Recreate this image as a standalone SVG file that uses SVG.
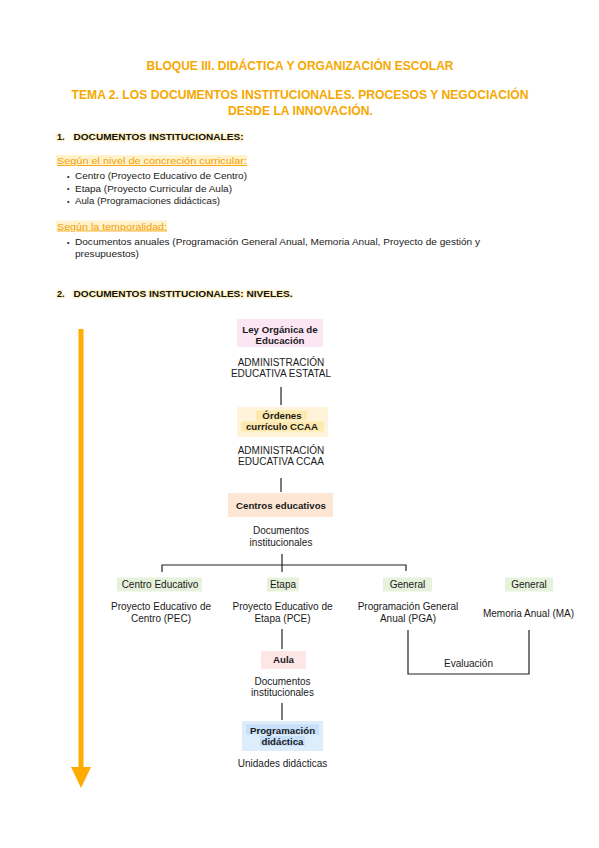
<svg xmlns="http://www.w3.org/2000/svg" width="599" height="848" viewBox="0 0 599 848">
<style>
text{font-family:"Liberation Sans",Arial,sans-serif;fill:#1a1a1a}
.title{font-size:12px;font-weight:bold;fill:#F7A800;text-anchor:middle}
.h{font-size:9px;font-weight:bold;fill:#111;paint-order:stroke;stroke:#fff1c4;stroke-width:2.5px;stroke-linejoin:round}
.sub{font-size:9px;fill:#F5A000;text-decoration:underline}
.t{font-size:9px}
.bul{font-size:7px}
.c{font-size:10px;text-anchor:middle}
.b{font-size:9.7px;font-weight:bold;text-anchor:middle}
.ln{stroke:#222;stroke-width:1.2;fill:none}
</style>
<rect width="599" height="848" fill="#fff"/>
<text class="title" x="300" y="69.5" textLength="307" lengthAdjust="spacingAndGlyphs">BLOQUE III. DIDÁCTICA Y ORGANIZACIÓN ESCOLAR</text>
<text class="title" x="300" y="98.5" textLength="457" lengthAdjust="spacingAndGlyphs">TEMA 2. LOS DOCUMENTOS INSTITUCIONALES. PROCESOS Y NEGOCIACIÓN</text>
<text class="title" x="300.5" y="114.5" textLength="145" lengthAdjust="spacingAndGlyphs">DESDE LA INNOVACIÓN.</text>

<text class="h" x="57" y="139.5">1.</text>
<text class="h" x="73.5" y="139.5" textLength="170" lengthAdjust="spacingAndGlyphs">DOCUMENTOS INSTITUCIONALES:</text>

<rect x="56" y="155" width="191" height="10" fill="#fff2cc"/>
<text class="sub" x="57" y="164" textLength="190" lengthAdjust="spacingAndGlyphs">Según el nivel de concreción curricular:</text>
<text class="bul" x="67" y="178.5">•</text>
<text class="t" x="75" y="179.3" textLength="172" lengthAdjust="spacingAndGlyphs">Centro (Proyecto Educativo de Centro)</text>
<text class="bul" x="67" y="191">•</text>
<text class="t" x="75" y="191.8" textLength="157" lengthAdjust="spacingAndGlyphs">Etapa (Proyecto Curricular de Aula)</text>
<text class="bul" x="67" y="203.5">•</text>
<text class="t" x="75" y="204.3" textLength="145" lengthAdjust="spacingAndGlyphs">Aula (Programaciones didácticas)</text>

<rect x="56" y="220.5" width="111" height="10" fill="#fff2cc"/>
<text class="sub" x="57" y="229.5" textLength="110" lengthAdjust="spacingAndGlyphs">Según la temporalidad:</text>
<text class="bul" x="67" y="244.5">•</text>
<text class="t" x="75" y="245.3" textLength="405" lengthAdjust="spacingAndGlyphs">Documentos anuales (Programación General Anual, Memoria Anual, Proyecto de gestión y</text>
<text class="t" x="75" y="257" textLength="64" lengthAdjust="spacingAndGlyphs">presupuestos)</text>

<text class="h" x="57" y="296.5">2.</text>
<text class="h" x="73.5" y="296.5" textLength="219" lengthAdjust="spacingAndGlyphs">DOCUMENTOS INSTITUCIONALES: NIVELES.</text>

<g id="arrow">
<rect x="78.5" y="329" width="5" height="439" fill="#FFAB00"/>
<polygon points="71,767 91,767 81,788" fill="#FFAB00"/>
</g>

<g id="connectors">
<line class="ln" x1="281" y1="387" x2="281" y2="405"/>
<line class="ln" x1="281" y1="478" x2="281" y2="492"/>
<line class="ln" x1="282" y1="554" x2="282" y2="572"/>
<polyline class="ln" points="162,572 162,565 406,565 406,571"/>
<line class="ln" x1="282" y1="629" x2="282" y2="649"/>
<line class="ln" x1="282" y1="703" x2="282" y2="720"/>
<polyline class="ln" points="408,630 408,674 529,674 529,630"/>
<text class="c" x="468.5" y="666.5">Evaluación</text>
</g>

<g id="n-ley">
<rect x="237" y="319" width="86" height="28" fill="#fce6f4"/>
<text class="b" x="280" y="333.3">Ley Orgánica de</text>
<text class="b" x="280" y="344.4">Educación</text>
<text class="c" x="281" y="366.3">ADMINISTRACIÓN</text>
<text class="c" x="281" y="376.9">EDUCATIVA ESTATAL</text>
</g>

<g id="n-ordenes">
<rect x="237" y="407" width="91" height="30" fill="#fff4da"/>
<rect x="256" y="410.5" width="51" height="10" fill="#fde9ad"/>
<rect x="241" y="421.5" width="83" height="10" fill="#fde9ad"/>
<text class="b" x="282" y="419.2">Órdenes</text>
<text class="b" x="282" y="430.2">currículo CCAA</text>
<text class="c" x="281" y="453.6">ADMINISTRACIÓN</text>
<text class="c" x="281" y="465.3">EDUCATIVA CCAA</text>
</g>

<g id="n-centros">
<rect x="228" y="493" width="105" height="24" fill="#fde6d4"/>
<text class="b" x="281" y="508.5">Centros educativos</text>
<text class="c" x="281" y="533.6">Documentos</text>
<text class="c" x="281" y="546.3">institucionales</text>
</g>

<g id="n-centro-educativo">
<rect x="117" y="577.5" width="85" height="14" fill="#e6f2dc"/>
<text class="c" x="160" y="587.8">Centro Educativo</text>
<text class="c" x="161" y="610.3">Proyecto Educativo de</text>
<text class="c" x="161" y="621.9">Centro (PEC)</text>
</g>

<g id="n-etapa">
<rect x="267" y="577.5" width="32" height="14" fill="#e6f2dc"/>
<text class="c" x="283" y="587.8">Etapa</text>
<text class="c" x="282.5" y="610.3">Proyecto Educativo de</text>
<text class="c" x="282.5" y="621.9">Etapa (PCE)</text>
</g>

<g id="n-general-pga">
<rect x="383" y="577.5" width="49" height="14" fill="#e6f2dc"/>
<text class="c" x="407.5" y="587.8">General</text>
<text class="c" x="408" y="610.3">Programación General</text>
<text class="c" x="408" y="621.9">Anual (PGA)</text>
</g>

<g id="n-general-ma">
<rect x="505" y="577.5" width="48" height="14" fill="#e6f2dc"/>
<text class="c" x="529" y="587.8">General</text>
<text class="c" x="528.5" y="616.9">Memoria Anual (MA)</text>
</g>

<g id="n-aula">
<rect x="261" y="651" width="45" height="18" fill="#fde6e6"/>
<text class="b" x="283.5" y="662.7">Aula</text>
<text class="c" x="282.5" y="684.6">Documentos</text>
<text class="c" x="282.5" y="696.3">institucionales</text>
</g>

<g id="n-programacion">
<rect x="242" y="721" width="81" height="30" fill="#ddedfc"/>
<rect x="246" y="724.5" width="73" height="10" fill="#c6e0f9"/>
<rect x="260" y="736" width="45" height="10" fill="#c6e0f9"/>
<text class="b" x="282.5" y="733.5">Programación</text>
<text class="b" x="282.5" y="745.2">didáctica</text>
<text class="c" x="282.5" y="766.9">Unidades didácticas</text>
</g>
</svg>
